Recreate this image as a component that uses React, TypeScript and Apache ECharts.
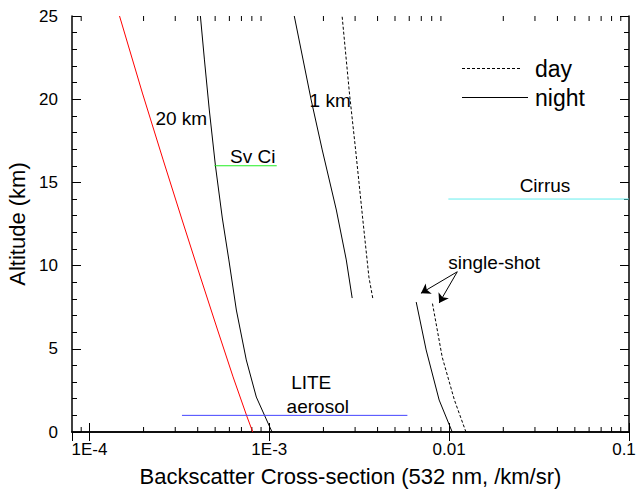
import React, { useEffect, useRef } from "react";
import * as echarts from "echarts";

// ---------- axis ranges & ticks ----------
const X_MIN = 8e-5;
const X_MAX = 0.1;
const Y_MIN = 0;
const Y_MAX = 25;
const Y_INTERVAL = 5;
const X_MINOR_TICKS = [
  9e-5,
  2e-4, 3e-4, 4e-4, 5e-4, 6e-4, 7e-4, 8e-4, 9e-4,
  2e-3, 3e-3, 4e-3, 5e-3, 6e-3, 7e-3, 8e-3, 9e-3,
  2e-2, 3e-2, 4e-2, 5e-2, 6e-2, 7e-2, 8e-2, 9e-2,
];

// ---------- curves (altitude km, backscatter /km/sr) ----------
const red20Alt = [0, 0.9, 3.31, 6.13, 9.74, 12.86, 16.35, 20.37, 25];
const red20Val = [8.09e-4, 7.53e-4, 6.29e-4, 5.16e-4, 4.02e-4, 3.25e-4, 2.57e-4, 1.97e-4, 1.47e-4];

const night20Alt = [0, 0.9, 2.1, 4.33, 7.33, 10.34, 12.86, 15.99, 19.35, 22.36, 25];
const night20Val = [1.036e-3, 9.5e-4, 8.47e-4, 7.45e-4, 6.56e-4, 5.96e-4, 5.48e-4, 5.02e-4, 4.64e-4, 4.36e-4, 4.14e-4];

const night1Alt = [8.05, 10.34, 13.34, 16.95, 19.95, 25];
const night1Val = [2.89e-3, 2.68e-3, 2.36e-3, 1.97e-3, 1.71e-3, 1.377e-3];

const day1Alt = [8.05, 9.31, 12.92, 16.95, 20.37, 25];
const day1Val = [3.76e-3, 3.58e-3, 3.3e-3, 3.02e-3, 2.79e-3, 2.54e-3];

const nightShotAlt = [0, 1.92, 4.93, 7.81];
const nightShotVal = [1.04e-2, 8.8e-3, 7.45e-3, 6.56e-3];

const dayShotAlt = [0, 1.92, 4.5, 7.81];
const dayShotVal = [1.24e-2, 1.07e-2, 9.15e-3, 8.05e-3];

// ---------- reference levels ----------
const svCiAlt = 16;
const svCiRange = [4.95e-4, 1.1e-3];
const cirrusAlt = 14;
const cirrusRange = [0.0099, 0.1];
const liteAlt = 1;
const liteRange = [3.27e-4, 5.86e-3];

// ---------- annotations ----------
const annotationTexts = ["20 km", "1 km", "Sv Ci", "Cirrus", "single-shot", "LITE", "aerosol"];
const annotationX = [3.24e-4, 2.18e-3, 8.1e-4, 0.0341, 0.0178, 1.71e-3, 1.86e-3];
const annotationY = [18.87, 19.9, 16.55, 14.84, 10.16, 2.96, 1.56];

const arrowStart = [0.0111, 9.63];
const arrowEnds = [
  [6.97e-3, 8.34],
  [8.8e-3, 7.75],
];

const FONT = "Liberation Sans, Arial, Helvetica, sans-serif";

function pairs(vals: number[], alts: number[]) {
  return vals.map((v, i) => [v, alts[i]]);
}

function lineSeries(name: string, data: number[][], color: string, dashed: boolean) {
  return {
    type: "line",
    name,
    data,
    symbol: "none",
    smooth: false,
    lineStyle: { color, width: 1, type: dashed ? [3, 2] : "solid" },
    silent: true,
    z: 3,
  };
}

function fmtX(v: number) {
  const e = Math.round(Math.log10(v));
  if (e <= -3) return "1E" + e;
  const s = String(Number(v.toPrecision(2)));
  if (Math.abs(v - X_MAX) < 1e-9) return "{last|" + s + "}";
  return s;
}

export default function App() {
  const ref = useRef<HTMLDivElement>(null);
  useEffect(() => {
    document.body.style.margin = "0";
    document.body.style.overflow = "hidden";
    const chart = echarts.init(ref.current!, null, { renderer: "svg" });

    const tickLine = { color: "#000", width: 1 };
    const axisLine = { show: true, lineStyle: { color: "#000", width: 1.5 } };

    const option: any = {
      animation: false,
      backgroundColor: "#fff",
      textStyle: { fontFamily: FONT },
      grid: { left: 72, right: 8, top: 16, bottom: 61, containLabel: false, outerBoundsMode: "none" },
      xAxis: [
        {
          type: "log",
          logBase: 10,
          min: X_MIN,
          max: X_MAX,
          position: "bottom",
          name: "Backscatter Cross-section (532 nm, /km/sr)",
          nameLocation: "middle",
          nameGap: 33,
          nameTextStyle: { fontSize: 22, color: "#000", fontFamily: FONT },
          axisLine,
          axisTick: { show: true, inside: true, length: 9, lineStyle: tickLine },
          axisLabel: {
            show: true,
            showMinLabel: false,
            margin: 9,
            fontSize: 17,
            color: "#000",
            fontFamily: FONT,
            formatter: fmtX,
            rich: {
              last: { fontSize: 17, color: "#000", fontFamily: FONT, padding: [0, 10, 0, 0] },
            },
          },
          splitLine: { show: false },
        },
        {
          type: "log",
          logBase: 10,
          min: X_MIN,
          max: X_MAX,
          position: "top",
          axisLine,
          axisTick: { show: true, inside: true, length: 9, lineStyle: tickLine },
          axisLabel: { show: false },
          splitLine: { show: false },
        },
      ],
      yAxis: [
        {
          type: "value",
          min: Y_MIN,
          max: Y_MAX,
          interval: Y_INTERVAL,
          position: "left",
          name: "Altitude (km)",
          nameLocation: "middle",
          nameGap: 40,
          nameTextStyle: { fontSize: 22, color: "#000", fontFamily: FONT },
          axisLine,
          axisTick: { show: true, inside: true, length: 9, lineStyle: tickLine },
          minorTick: { show: true, splitNumber: 5, length: 5, lineStyle: tickLine },
          axisLabel: { margin: 14, fontSize: 17, color: "#000", fontFamily: FONT },
          splitLine: { show: false },
        },
        {
          type: "value",
          min: Y_MIN,
          max: Y_MAX,
          interval: Y_INTERVAL,
          position: "right",
          axisLine,
          axisTick: { show: true, inside: true, length: 9, lineStyle: tickLine },
          minorTick: { show: true, splitNumber: 5, length: 5, lineStyle: tickLine },
          axisLabel: { show: false },
          splitLine: { show: false },
        },
      ],
      series: [
        lineSeries("20 km ref", pairs(red20Val, red20Alt), "#ff0000", false),
        lineSeries("night", pairs(night20Val, night20Alt), "#000", false),
        lineSeries("night", pairs(night1Val, night1Alt), "#000", false),
        lineSeries("day", pairs(day1Val, day1Alt), "#000", true),
        lineSeries("night", pairs(nightShotVal, nightShotAlt), "#000", false),
        lineSeries("day", pairs(dayShotVal, dayShotAlt), "#000", true),
        lineSeries("Sv Ci", [[svCiRange[0], svCiAlt], [svCiRange[1], svCiAlt]], "#22ee22", false),
        lineSeries("Cirrus", [[cirrusRange[0], cirrusAlt], [cirrusRange[1], cirrusAlt]], "#66eeee", false),
        lineSeries("LITE", [[liteRange[0], liteAlt], [liteRange[1], liteAlt]], "#4545ff", false),
        {
          type: "custom",
          name: "minor x ticks",
          silent: true,
          clip: false,
          data: X_MINOR_TICKS.map((v) => [v, Y_MIN]),
          encode: { x: 0, y: 1 },
          renderItem: (params: any, api: any) => {
            const v = api.value(0);
            const pb = api.coord([v, Y_MIN]);
            const pt = api.coord([v, Y_MAX]);
            const style = { stroke: "#000", lineWidth: 1 };
            return {
              type: "group",
              children: [
                { type: "line", shape: { x1: pb[0], y1: pb[1], x2: pb[0], y2: pb[1] - 5 }, style },
                { type: "line", shape: { x1: pt[0], y1: pt[1], x2: pt[0], y2: pt[1] + 5 }, style },
              ],
            };
          },
          z: 2,
        },
        {
          type: "scatter",
          name: "annotations",
          silent: true,
          symbolSize: 1,
          itemStyle: { color: "transparent", opacity: 1 },
          data: annotationTexts.map((t, i) => ({ name: t, value: [annotationX[i], annotationY[i]] })),
          label: {
            show: true,
            position: "inside",
            formatter: "{b}",
            color: "#000",
            opacity: 1,
            textBorderWidth: 0,
            fontSize: 19,
            fontFamily: FONT,
          },
          z: 5,
        },
        {
          type: "lines",
          name: "arrows",
          coordinateSystem: "cartesian2d",
          silent: true,
          symbol: ["none", "arrow"],
          symbolSize: 9,
          lineStyle: { color: "#000", width: 1, opacity: 1, curveness: 0 },
          data: arrowEnds.map((e) => ({ coords: [arrowStart, e] })),
          z: 5,
        },
      ],
      graphic: [
        { type: "line", shape: { x1: 462, y1: 68.5, x2: 522, y2: 68.5 }, style: { stroke: "#000", lineWidth: 1, lineDash: [3, 2] } },
        { type: "text", x: 535, y: 69, style: { text: "day", fontSize: 23, fontFamily: FONT, fill: "#000", verticalAlign: "middle", align: "left" } },
        { type: "line", shape: { x1: 462, y1: 97.5, x2: 528, y2: 97.5 }, style: { stroke: "#000", lineWidth: 1 } },
        { type: "text", x: 535, y: 97.5, style: { text: "night", fontSize: 23, fontFamily: FONT, fill: "#000", verticalAlign: "middle", align: "left" } },
      ],
    };

    chart.setOption(option);
    return () => chart.dispose();
  }, []);
  return <div ref={ref} style={{ width: 637, height: 493 }} />;
}
